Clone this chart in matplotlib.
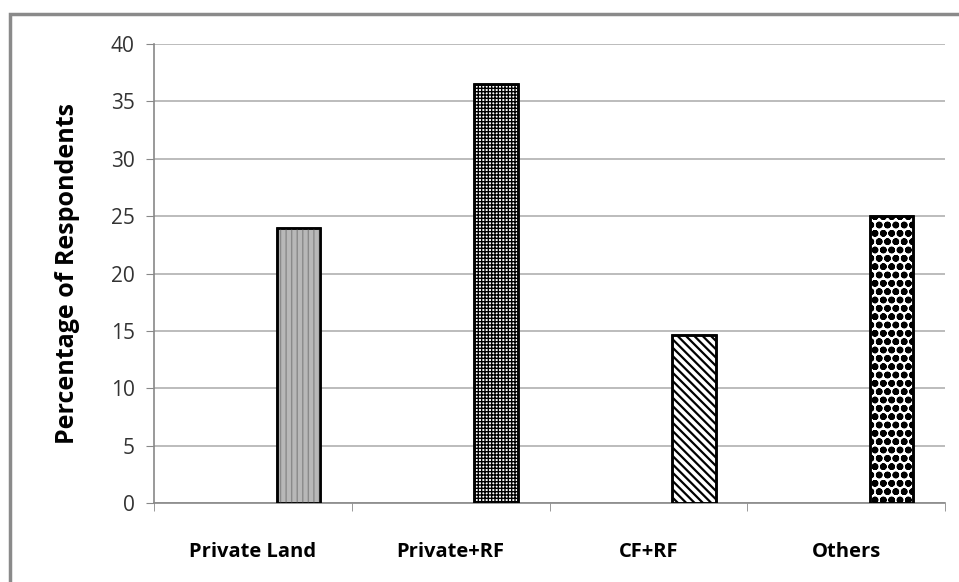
import matplotlib.pyplot as plt
import matplotlib.patches as mpatches

categories = ['Private Land', 'Private+RF', 'CF+RF', 'Others']
values = [24, 36.5, 14.6, 25]
hatches = ['|||', '+++++', '\\\\\\\\', 'oo']
hatch_widths = [1.0, 1.0, 1.6, 2.4]
fills = ['#b8b8b8', 'white', 'white', 'white']

plt.rcParams['font.family'] = ['Open Sans', 'DejaVu Sans']

fig = plt.figure(figsize=(9.59, 5.82), dpi=100)
ax = fig.add_axes([0.1606, 0.1357, 0.8248, 0.7887])

# outer frame like the pasted chart box
frame = mpatches.Rectangle((10 / 959, -0.05), 1.2, 0.05 + 1 - 13.5 / 582,
                           transform=fig.transFigure, fill=False,
                           edgecolor='#8a8a8a', linewidth=2.5)
fig.patches.append(frame)

x = list(range(len(categories)))
for i, v in enumerate(values):
    hc = '#8a8a8a' if i == 0 else 'black'
    ax.bar(x[i] + 0.23, v, width=0.22, color=fills[i], edgecolor='black',
           linewidth=1.8, zorder=3)
    with plt.rc_context({'hatch.linewidth': hatch_widths[i]}):
        b = ax.bar(x[i] + 0.23, v, width=0.22, color='none', edgecolor=hc,
                   hatch=hatches[i], linewidth=0, zorder=3)
        for p in b:
            if hasattr(p, 'set_hatch_linewidth'):
                p.set_hatch_linewidth(hatch_widths[i])
    ax.bar(x[i] + 0.23, v, width=0.22, color='none', edgecolor='black',
           linewidth=1.8, zorder=4)

ax.set_xlim(-0.5, 3.5)
ax.set_ylim(0, 40)
ax.set_yticks(range(0, 41, 5))
ax.set_xticks(x)
ax.set_xticklabels(categories, fontsize=14.5, fontweight='bold')
ax.set_xticks([i - 0.5 for i in range(5)], minor=True)
ax.tick_params(axis='x', which='major', length=0, pad=28)
ax.tick_params(axis='x', which='minor', length=6, color='#888888')
ax.tick_params(axis='y', labelsize=15, length=6, color='#888888', pad=8,
               labelcolor='#333333')
ax.set_ylabel('Percentage of Respondents', fontsize=18, fontweight='bold',
              labelpad=22)

ax.grid(axis='y', color='#b0b0b0', linewidth=1.2, zorder=0)
for s in ['top', 'right']:
    ax.spines[s].set_visible(False)
for s in ['left', 'bottom']:
    ax.spines[s].set_color('#888888')
    ax.spines[s].set_linewidth(1.2)

fig.savefig('out.png', dpi=100)
